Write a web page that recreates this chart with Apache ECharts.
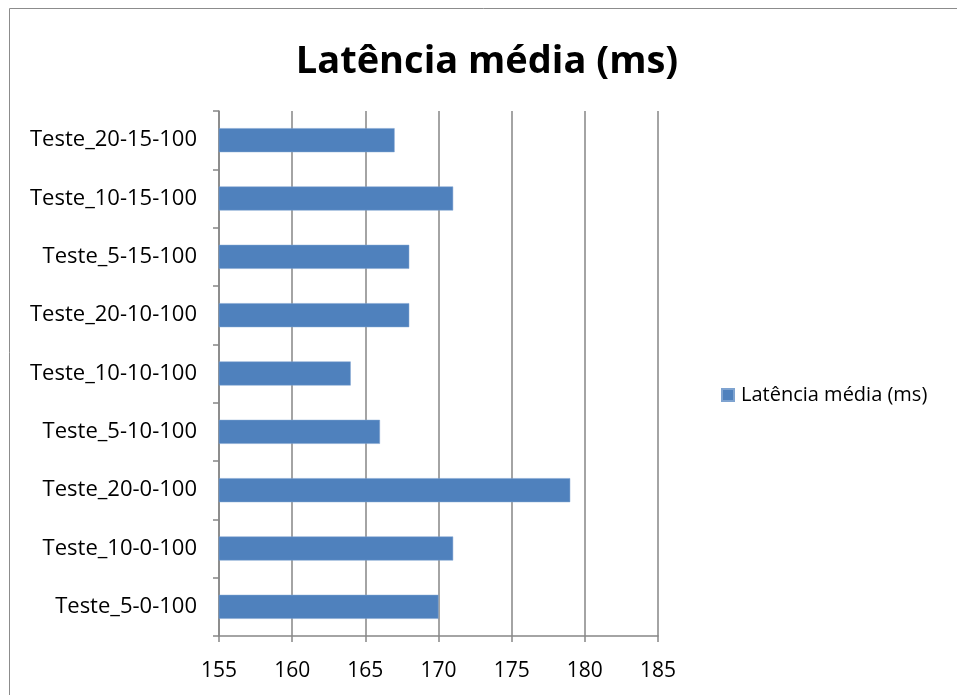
<!DOCTYPE html>
<html>
<head>
<meta charset="utf-8">
<script src="https://cdn.jsdelivr.net/npm/echarts@6/dist/echarts.min.js"></script>
<style>
  html, body { margin: 0; padding: 0; background: #fff; }
  #chart { width: 957px; height: 695px; }
</style>
</head>
<body>
<div id="chart"></div>
<script>
// Test scenarios, listed bottom-to-top as drawn on the category axis
const categories = [
  'Teste_5-0-100', 'Teste_10-0-100', 'Teste_20-0-100',
  'Teste_5-10-100', 'Teste_10-10-100', 'Teste_20-10-100',
  'Teste_5-15-100', 'Teste_10-15-100', 'Teste_20-15-100'
];
// Average latency per scenario, in milliseconds
const latencyMs = [170, 171, 179, 166, 164, 168, 168, 171, 167];
const seriesName = 'Latência média (ms)';
const axisMin = 155, axisMax = 185, axisStep = 5;

const font = '"Open Sans", Lato, "DejaVu Sans", sans-serif';
const chart = echarts.init(document.getElementById('chart'), null, { renderer: 'canvas' });

chart.setOption({
  animation: false,
  backgroundColor: '#fff',
  graphic: [
    {
      // outer chart frame
      type: 'rect',
      shape: { x: 9.5, y: 8.5, width: 960, height: 700 },
      style: { fill: 'none', stroke: '#8c8c8c', lineWidth: 1 },
      silent: true
    },
    {
      // chart title, centred over the frame
      type: 'text',
      x: 487,
      y: 62,
      style: {
        text: seriesName,
        fontFamily: font,
        fontWeight: 'bold',
        fontSize: 38,
        fill: '#000',
        align: 'center',
        verticalAlign: 'middle'
      },
      silent: true
    }
  ],
  legend: {
    data: [seriesName],
    left: 716,
    top: 380,
    itemWidth: 12,
    itemHeight: 12,
    itemGap: 6,
    icon: 'rect',
    textStyle: { fontFamily: font, fontSize: 20, color: '#000', padding: [0, 0, 0, 2] }
  },
  grid: { left: 219, right: 299, top: 111, bottom: 59, containLabel: false },
  xAxis: {
    type: 'value',
    min: axisMin,
    max: axisMax,
    interval: axisStep,
    axisLine: { show: true, lineStyle: { color: '#868686', width: 1.5 } },
    axisTick: { show: true, length: 6, lineStyle: { color: '#868686', width: 1.5 } },
    axisLabel: { fontFamily: font, fontSize: 21, color: '#000', margin: 25 },
    splitLine: { show: true, lineStyle: { color: '#868686', width: 1.5 } }
  },
  yAxis: {
    type: 'category',
    data: categories,
    axisLine: { show: true, lineStyle: { color: '#868686', width: 1.5 } },
    axisTick: { show: true, length: 6, alignWithLabel: false, lineStyle: { color: '#868686', width: 1.5 } },
    axisLabel: { fontFamily: font, fontSize: 22, color: '#000', margin: 22, padding: [4, 0, 0, 0] },
    splitLine: { show: false }
  },
  series: [{
    name: seriesName,
    type: 'bar',
    data: latencyMs,
    barWidth: 24,
    itemStyle: { color: '#4F81BD', borderColor: '#7ea3d0', borderWidth: 0.5 }
  }]
});
</script>
</body>
</html>
